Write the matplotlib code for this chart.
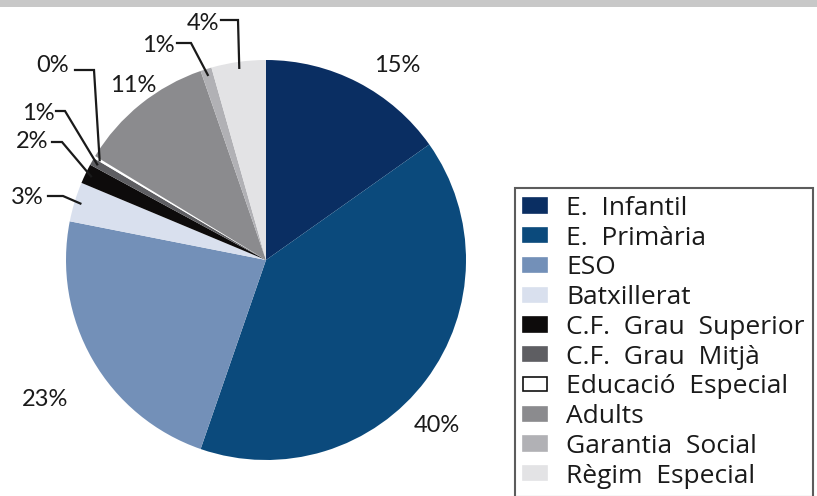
import matplotlib.pyplot as plt
from matplotlib.patches import Patch, Rectangle
import numpy as np

plt.rcParams['font.family'] = ['Lato', 'DejaVu Sans']

categories = ['E. Infantil', 'E. Primària', 'ESO', 'Batxillerat', 'C.F. Grau Superior',
              'C.F. Grau Mitjà', 'Educació Especial', 'Adults', 'Garantia Social', 'Règim Especial']
values = [15.2, 40.1, 22.8, 3.2, 1.6, 0.6, 0.2, 11.0, 0.9, 4.4]
pct_labels = ['15%', '40%', '23%', '3%', '2%', '1%', '0%', '11%', '1%', '4%']
colors = ['#0a2e62', '#0b4a7c', '#7390b8', '#d9e0ee', '#0d0b0b',
          '#5e5e62', '#ffffff', '#8b8b8e', '#b1b1b5', '#e3e3e5']

W, H = 817, 496
cx, cy, R = 266, 260, 200


def px(x, y):
    # pixel position -> pie data coords
    return (x - cx) / R, (cy - y) / R


fig = plt.figure(figsize=(W / 100, H / 100), dpi=100)
fig.patches.append(Rectangle((0, 1 - 7 / H), 1, 7 / H, transform=fig.transFigure,
                             facecolor='#c8c8c8', edgecolor='none'))

ax = fig.add_axes([(cx - R) / W, (H - cy - R) / H, 2 * R / W, 2 * R / H])
wedges, _ = ax.pie(values, colors=colors, startangle=90, counterclock=False,
                   wedgeprops=dict(linewidth=0))
ax.set_xlim(-1, 1)
ax.set_ylim(-1, 1)
ax.set_aspect('equal')
ax.axis('off')

# label text positions (pixels) and leader elbows (None = plain label)
label_pos = [(397, 66), (437, 425), (45, 400), (27, 197), (32, 141),
             (38, 113), (53, 66), (133, 86), (158, 45), (203, 24)]
elbows = [None, None, None, [(48, 196), (63, 196)], [(52, 142), (62, 142)],
          [(56, 111), (65, 111)], [(75, 70), (94, 70)], None,
          [(177, 43), (191, 43)], [(221, 20), (238, 20)]]
fs = 17
for i, w in enumerate(wedges):
    x, y = px(*label_pos[i])
    ax.text(x, y, pct_labels[i], fontsize=fs, ha='center', va='center', color='#1a1a1a')
    if elbows[i] is not None:
        th = np.deg2rad((w.theta1 + w.theta2) / 2)
        end = (0.97 * np.cos(th), 0.97 * np.sin(th))
        pts = [px(*p) for p in elbows[i]] + [end]
        ax.plot([p[0] for p in pts], [p[1] for p in pts], color='#1a1a1a', lw=1.6,
                clip_on=False, solid_joinstyle='miter')

handles = []
for c in colors:
    ec = '#111111' if c == '#ffffff' else c
    handles.append(Patch(facecolor=c, edgecolor=ec, linewidth=1.2))
# the original legend is typeset with wide word spacing
shown = [c.replace(' ', '  ') for c in categories]
leg = fig.legend(handles, shown, loc='upper left', bbox_to_anchor=(515 / W, 1 - 188 / H),
                 prop={'family': ['Open Sans', 'DejaVu Sans'], 'size': 19},
                 frameon=True, fancybox=False, edgecolor='#333333',
                 handlelength=0.92, handleheight=0.46, handletextpad=0.72, labelspacing=0.18,
                 borderpad=0.3, borderaxespad=0)
leg.get_frame().set_linewidth(1.5)
for t in leg.get_texts():
    t.set_color('#1a1a1a')

fig.savefig('out.png', dpi=100, facecolor='white')
